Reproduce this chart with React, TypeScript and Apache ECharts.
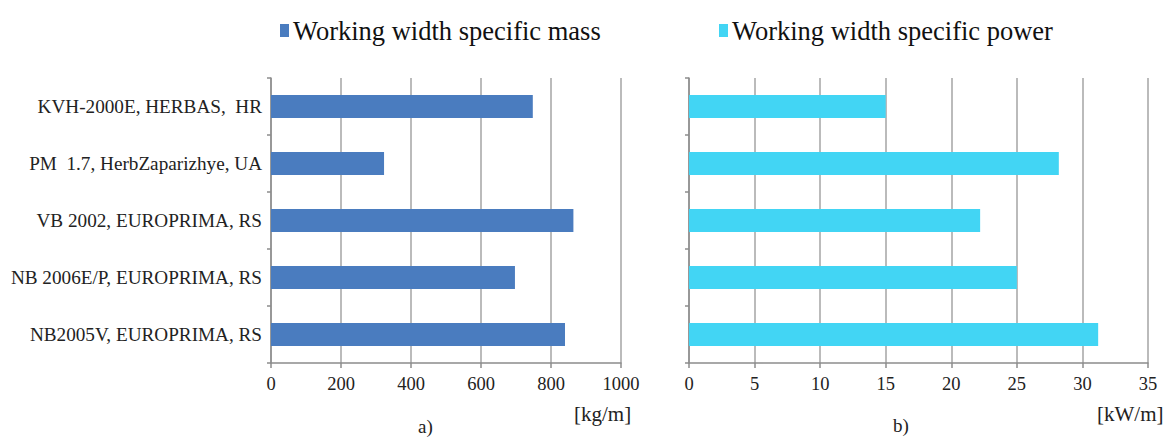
import React, { useEffect, useRef } from "react";
import * as echarts from "echarts";

const machines = [
  "KVH-2000E, HERBAS,  HR",
  "PM  1.7, HerbZaparizhye, UA",
  "VB 2002, EUROPRIMA, RS",
  "NB 2006E/P, EUROPRIMA, RS",
  "NB2005V, EUROPRIMA, RS",
];
const specificMass = [748, 323, 864, 697, 840];
const specificPower = [15, 28.2, 22.2, 25, 31.2];
const massTicks = { min: 0, max: 1000, interval: 200 };
const powerTicks = { min: 0, max: 35, interval: 5 };

const FONT = "Liberation Serif";
const MASS_COLOR = "#4a7cbf";
const POWER_COLOR = "#42d5f4";
const AXIS_GREY = "#8c8c8c";
const GRID_GREY = "#a4a4a4";

export default function App() {
  const ref = useRef<HTMLDivElement>(null);

  useEffect(() => {
    if (!ref.current) return;
    const chart = echarts.init(ref.current, null, { renderer: "svg" });

    const valueAxis = (gridIndex: number, t: { min: number; max: number; interval: number }) => ({
      type: "value" as const,
      gridIndex,
      min: t.min,
      max: t.max,
      interval: t.interval,
      axisLine: { show: true, lineStyle: { color: AXIS_GREY, width: 1.5 } },
      axisTick: { show: true, length: 5, lineStyle: { color: AXIS_GREY, width: 1.5 } },
      splitLine: { show: true, lineStyle: { color: GRID_GREY, width: 1.5 } },
      axisLabel: {
        fontFamily: FONT,
        fontSize: 18.5,
        color: "#222",
        margin: 11,
        formatter: (v: number) => String(v),
      },
    });

    const categoryAxis = (gridIndex: number, showLabels: boolean) => ({
      type: "category" as const,
      gridIndex,
      data: machines,
      inverse: true,
      axisLine: { show: true, lineStyle: { color: AXIS_GREY, width: 1.5 } },
      axisTick: { show: true, length: 4, alignWithLabel: false, lineStyle: { color: AXIS_GREY, width: 1.5 } },
      axisLabel: { show: showLabels, fontFamily: FONT, fontSize: 19.2, color: "#222", margin: 9 },
    });

    const legendBase = {
      top: 12,
      itemWidth: 9,
      itemHeight: 13,
      itemGap: 4,
      icon: "rect",
      textStyle: { fontFamily: FONT, fontSize: 26.5, color: "#111", padding: [0, 0, 0, -1] },
    };

    chart.setOption({
      animation: false,
      backgroundColor: "#ffffff",
      legend: [
        { ...legendBase, left: 275, data: ["Working width specific mass"] },
        { ...legendBase, left: 714, data: ["Working width specific power"] },
      ],
      grid: [
        { left: 271, right: 542, top: 78, height: 285 },
        { left: 689, right: 15, top: 78, height: 285 },
      ],
      xAxis: [valueAxis(0, massTicks), valueAxis(1, powerTicks)],
      yAxis: [categoryAxis(0, true), categoryAxis(1, false)],
      series: [
        {
          name: "Working width specific mass",
          type: "bar",
          xAxisIndex: 0,
          yAxisIndex: 0,
          data: specificMass,
          barWidth: 23,
          itemStyle: { color: MASS_COLOR },
        },
        {
          name: "Working width specific power",
          type: "bar",
          xAxisIndex: 1,
          yAxisIndex: 1,
          data: specificPower,
          barWidth: 23,
          itemStyle: { color: POWER_COLOR },
        },
      ],
      graphic: [
        { type: "text", left: 574, top: 403, style: { text: "[kg/m]", fontFamily: FONT, fontSize: 21, fill: "#222" } },
        { type: "text", left: 418, top: 417, style: { text: "a)", fontFamily: FONT, fontSize: 19, fill: "#222" } },
        { type: "text", left: 1097, top: 403, style: { text: "[kW/m]", fontFamily: FONT, fontSize: 21, fill: "#222" } },
        { type: "text", left: 893, top: 416, style: { text: "b)", fontFamily: FONT, fontSize: 19, fill: "#222" } },
      ],
    });

    return () => chart.dispose();
  }, []);

  return (
    <div
      ref={ref}
      style={{ position: "fixed", left: 0, top: 0, width: 1163, height: 438, background: "#fff" }}
    />
  );
}
